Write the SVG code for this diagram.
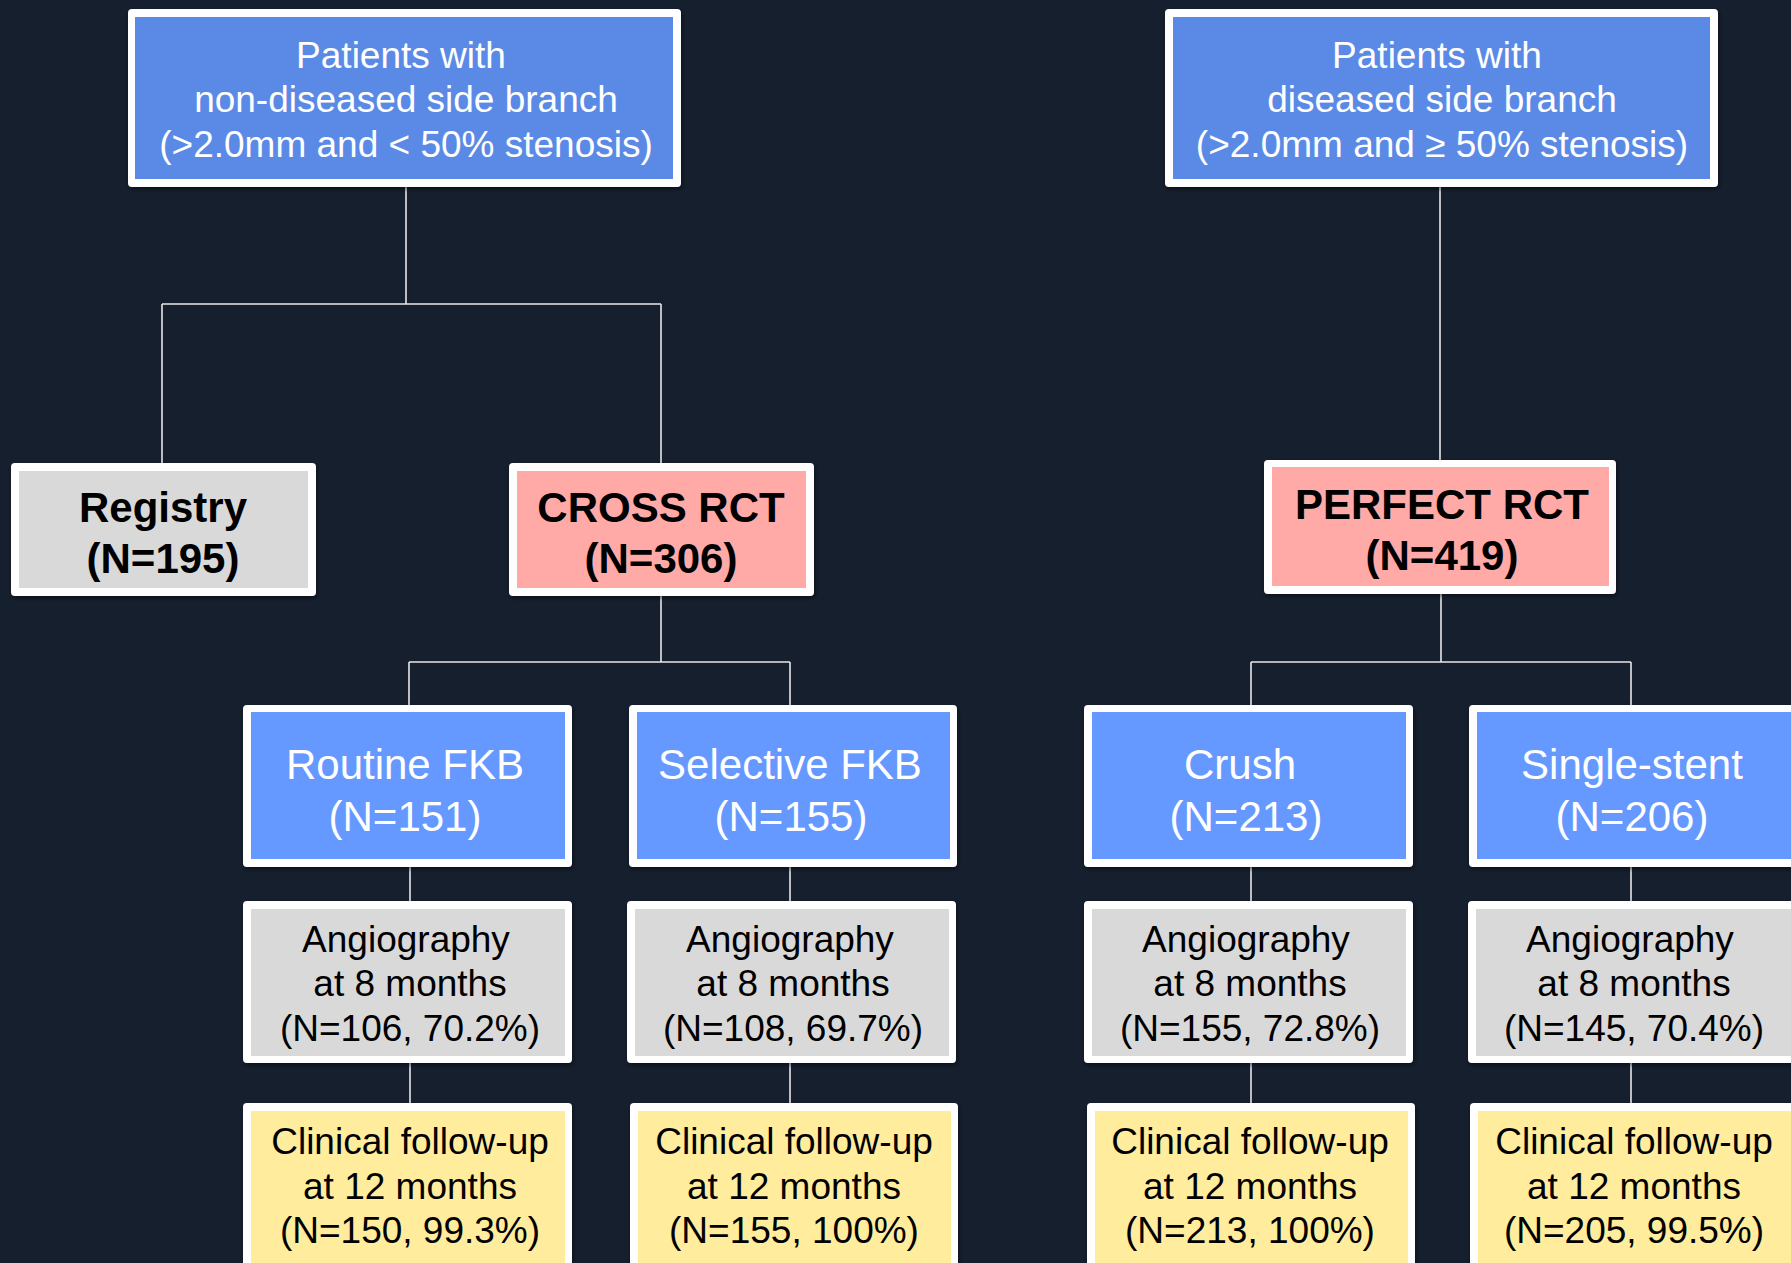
<svg xmlns="http://www.w3.org/2000/svg" width="1791" height="1263" viewBox="0 0 1791 1263">
<style>
.frame{fill:#FFFFFF}
.b1{fill:#5B8AE6}
.b2{fill:#6699FF}
.gray{fill:#D9D9D9}
.pink{fill:#FFAAA7}
.yel{fill:#FFEC9D}
.t{font-family:"Liberation Sans",Arial,sans-serif;text-anchor:middle}
.w{fill:#FFFFFF}
.k{fill:#000000}
.s37{font-size:37px}
.s42{font-size:42px}
.bold{font-weight:bold}
.conn line{stroke:#E8E8E8;stroke-width:1.6}
</style>
<defs>
<filter id="sh" x="-5%" y="-5%" width="110%" height="115%">
<feDropShadow dx="1" dy="2" stdDeviation="2" flood-color="#000" flood-opacity="0.5"/>
</filter>
</defs>
<rect x="0" y="0" width="1791" height="1263" fill="#161F2E"/>

<g id="connectors" class="conn">
<line x1="406" y1="187" x2="406" y2="304"/>
<line x1="162" y1="304" x2="661" y2="304"/>
<line x1="162" y1="304" x2="162" y2="463"/>
<line x1="661" y1="304" x2="661" y2="463"/>
<line x1="1440" y1="187" x2="1440" y2="460"/>
<line x1="661" y1="596" x2="661" y2="662"/>
<line x1="409" y1="662" x2="790" y2="662"/>
<line x1="409" y1="662" x2="409" y2="705"/>
<line x1="790" y1="662" x2="790" y2="705"/>
<line x1="1441" y1="594" x2="1441" y2="662"/>
<line x1="1251" y1="662" x2="1631" y2="662"/>
<line x1="1251" y1="662" x2="1251" y2="705"/>
<line x1="1631" y1="662" x2="1631" y2="705"/>
<line x1="410" y1="867" x2="410" y2="901"/>
<line x1="790" y1="867" x2="790" y2="901"/>
<line x1="1251" y1="867" x2="1251" y2="901"/>
<line x1="1631" y1="867" x2="1631" y2="901"/>
<line x1="410" y1="1063" x2="410" y2="1103"/>
<line x1="790" y1="1063" x2="790" y2="1103"/>
<line x1="1251" y1="1063" x2="1251" y2="1103"/>
<line x1="1631" y1="1063" x2="1631" y2="1103"/>
</g>

<g id="top-left">
<rect class="frame" x="128" y="9" width="553" height="178" rx="4" filter="url(#sh)"/>
<rect class="b1" x="135" y="17" width="538" height="162"/>
<text class="t w s37" x="404"><tspan x="401" y="68">Patients with</tspan><tspan x="406" y="112">non-diseased side branch</tspan><tspan x="406" y="157">(&gt;2.0mm and &lt; 50% stenosis)</tspan></text>
</g>

<g id="top-right">
<rect class="frame" x="1165" y="9" width="553" height="178" rx="4" filter="url(#sh)"/>
<rect class="b1" x="1173" y="17" width="537" height="162"/>
<text class="t w s37"><tspan x="1437" y="68">Patients with</tspan><tspan x="1442" y="112">diseased side branch</tspan><tspan x="1442" y="157">(&gt;2.0mm and ≥ 50% stenosis)</tspan></text>
</g>

<g id="registry">
<rect class="frame" x="11" y="463" width="305" height="133" rx="4" filter="url(#sh)"/>
<rect class="gray" x="19" y="471" width="289" height="117"/>
<text class="t k s42 bold"><tspan x="163" y="522">Registry</tspan><tspan x="163" y="573">(N=195)</tspan></text>
</g>

<g id="cross-rct">
<rect class="frame" x="509" y="463" width="305" height="133" rx="4" filter="url(#sh)"/>
<rect class="pink" x="517" y="471" width="289" height="117"/>
<text class="t k s42 bold"><tspan x="661" y="522">CROSS RCT</tspan><tspan x="661" y="573">(N=306)</tspan></text>
</g>

<g id="perfect-rct">
<rect class="frame" x="1264" y="460" width="352" height="134" rx="4" filter="url(#sh)"/>
<rect class="pink" x="1272" y="467" width="337" height="119"/>
<text class="t k s42 bold"><tspan x="1442" y="519">PERFECT RCT</tspan><tspan x="1442" y="570">(N=419)</tspan></text>
</g>

<g id="routine-fkb">
<rect class="frame" x="243" y="705" width="329" height="162" rx="4" filter="url(#sh)"/>
<rect class="b2" x="251" y="712" width="314" height="147"/>
<text class="t w s42"><tspan x="405" y="779">Routine FKB</tspan><tspan x="405" y="831">(N=151)</tspan></text>
</g>

<g id="selective-fkb">
<rect class="frame" x="629" y="705" width="328" height="162" rx="4" filter="url(#sh)"/>
<rect class="b2" x="637" y="712" width="313" height="147"/>
<text class="t w s42"><tspan x="790" y="779">Selective FKB</tspan><tspan x="791" y="831">(N=155)</tspan></text>
</g>

<g id="crush">
<rect class="frame" x="1084" y="705" width="329" height="162" rx="4" filter="url(#sh)"/>
<rect class="b2" x="1092" y="712" width="314" height="147"/>
<text class="t w s42"><tspan x="1240" y="779">Crush</tspan><tspan x="1246" y="831">(N=213)</tspan></text>
</g>

<g id="single-stent">
<rect class="frame" x="1469" y="705" width="330" height="162" rx="4" filter="url(#sh)"/>
<rect class="b2" x="1477" y="712" width="315" height="147"/>
<text class="t w s42"><tspan x="1632" y="779">Single-stent</tspan><tspan x="1632" y="831">(N=206)</tspan></text>
</g>

<g id="angio-1">
<rect class="frame" x="243" y="901" width="329" height="162" rx="4" filter="url(#sh)"/>
<rect class="gray" x="251" y="909" width="314" height="147"/>
<text class="t k s37"><tspan x="406" y="952">Angiography</tspan><tspan x="410" y="996">at 8 months</tspan><tspan x="410" y="1041">(N=106, 70.2%)</tspan></text>
</g>

<g id="angio-2">
<rect class="frame" x="627" y="901" width="329" height="162" rx="4" filter="url(#sh)"/>
<rect class="gray" x="635" y="909" width="314" height="147"/>
<text class="t k s37"><tspan x="790" y="952">Angiography</tspan><tspan x="793" y="996">at 8 months</tspan><tspan x="793" y="1041">(N=108, 69.7%)</tspan></text>
</g>

<g id="angio-3">
<rect class="frame" x="1084" y="901" width="329" height="162" rx="4" filter="url(#sh)"/>
<rect class="gray" x="1092" y="909" width="314" height="147"/>
<text class="t k s37"><tspan x="1246" y="952">Angiography</tspan><tspan x="1250" y="996">at 8 months</tspan><tspan x="1250" y="1041">(N=155, 72.8%)</tspan></text>
</g>

<g id="angio-4">
<rect class="frame" x="1468" y="901" width="331" height="162" rx="4" filter="url(#sh)"/>
<rect class="gray" x="1476" y="909" width="316" height="147"/>
<text class="t k s37"><tspan x="1630" y="952">Angiography</tspan><tspan x="1634" y="996">at 8 months</tspan><tspan x="1634" y="1041">(N=145, 70.4%)</tspan></text>
</g>

<g id="clinical-1">
<rect class="frame" x="243" y="1103" width="329" height="175" rx="4" filter="url(#sh)"/>
<rect class="yel" x="251" y="1111" width="314" height="160"/>
<text class="t k s37"><tspan x="410" y="1154">Clinical follow-up</tspan><tspan x="410" y="1199">at 12 months</tspan><tspan x="410" y="1243">(N=150, 99.3%)</tspan></text>
</g>

<g id="clinical-2">
<rect class="frame" x="630" y="1103" width="328" height="175" rx="4" filter="url(#sh)"/>
<rect class="yel" x="638" y="1111" width="313" height="160"/>
<text class="t k s37"><tspan x="794" y="1154">Clinical follow-up</tspan><tspan x="794" y="1199">at 12 months</tspan><tspan x="794" y="1243">(N=155, 100%)</tspan></text>
</g>

<g id="clinical-3">
<rect class="frame" x="1087" y="1103" width="328" height="175" rx="4" filter="url(#sh)"/>
<rect class="yel" x="1095" y="1111" width="313" height="160"/>
<text class="t k s37"><tspan x="1250" y="1154">Clinical follow-up</tspan><tspan x="1250" y="1199">at 12 months</tspan><tspan x="1250" y="1243">(N=213, 100%)</tspan></text>
</g>

<g id="clinical-4">
<rect class="frame" x="1470" y="1103" width="330" height="175" rx="4" filter="url(#sh)"/>
<rect class="yel" x="1478" y="1111" width="315" height="160"/>
<text class="t k s37"><tspan x="1634" y="1154">Clinical follow-up</tspan><tspan x="1634" y="1199">at 12 months</tspan><tspan x="1634" y="1243">(N=205, 99.5%)</tspan></text>
</g>
</svg>
